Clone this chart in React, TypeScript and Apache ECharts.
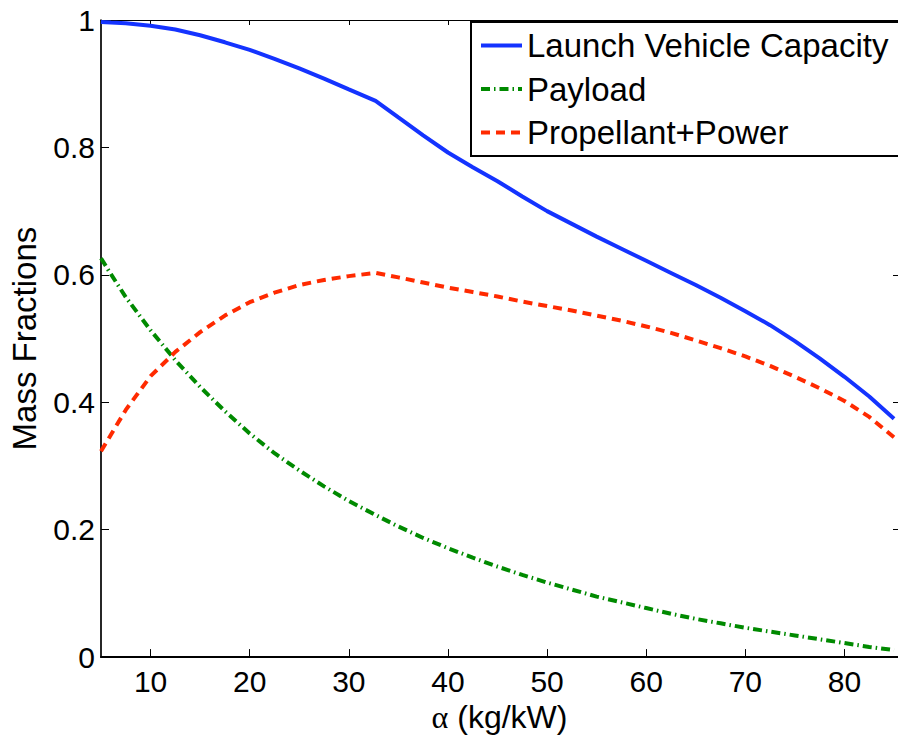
import React, { useEffect, useRef } from "react";
import * as echarts from "echarts";

const alphaValues = [5, 6, 7.5, 10, 12.5, 15, 17.5, 20, 22.5, 25, 27.5, 30, 32.7, 35, 37.5, 40, 42.5, 45, 47.5, 50, 52.5, 55, 57.5, 60, 62.5, 65, 67.5, 70, 72.5, 75, 77.5, 80, 82.5, 85];
const launchVehicleCapacity = [0.997, 0.996, 0.995, 0.991, 0.985, 0.976, 0.965, 0.953, 0.939, 0.924, 0.908, 0.891, 0.873, 0.847, 0.819, 0.792, 0.769, 0.747, 0.723, 0.7, 0.68, 0.66, 0.641, 0.622, 0.603, 0.584, 0.564, 0.543, 0.521, 0.496, 0.469, 0.44, 0.409, 0.374];
const payload = [0.626, 0.601, 0.565, 0.513, 0.466, 0.424, 0.386, 0.351, 0.32, 0.293, 0.268, 0.245, 0.223, 0.205, 0.187, 0.171, 0.156, 0.142, 0.129, 0.117, 0.106, 0.095, 0.086, 0.077, 0.068, 0.06, 0.053, 0.046, 0.04, 0.034, 0.028, 0.022, 0.016, 0.011];
const propellantPower = [0.323, 0.349, 0.388, 0.441, 0.479, 0.51, 0.536, 0.557, 0.572, 0.584, 0.592, 0.598, 0.603, 0.596, 0.588, 0.58, 0.573, 0.566, 0.558, 0.551, 0.544, 0.536, 0.528, 0.519, 0.509, 0.497, 0.485, 0.472, 0.457, 0.44, 0.422, 0.402, 0.377, 0.345];
const xTicks = [10, 20, 30, 40, 50, 60, 70, 80];
const seriesNames = ["Launch Vehicle Capacity", "Payload", "Propellant+Power"];

const FONT = "'Liberation Sans', Arial, Helvetica, sans-serif";

export default function App() {
  const ref = useRef<HTMLDivElement>(null);
  useEffect(() => {
    if (!ref.current) return;
    const chart = echarts.init(ref.current, null, { renderer: "svg" });
    const toPairs = (ys: number[]) => alphaValues.map((x, i) => [x, ys[i]]);
    const tickStyle = { show: true, inside: true, length: 8, lineStyle: { color: "#000", width: 1 } };
    chart.setOption({
      animation: false,
      backgroundColor: "#fff",
      textStyle: { fontFamily: FONT, color: "#000" },
      grid: { left: 100, top: 20, right: 0, bottom: 75, containLabel: false },
      xAxis: [
        {
          type: "value",
          min: 5,
          max: 85.4,
          position: "bottom",
          name: "{a|α} (kg/kW)",
          nameLocation: "middle",
          nameGap: 39,
          nameTextStyle: {
            fontSize: 32,
            color: "#000",
            fontFamily: FONT,
            rich: { a: { fontSize: 32, fontFamily: "'Liberation Serif', 'DejaVu Serif', serif", color: "#000" } },
          },
          axisLine: { show: true, onZero: false, lineStyle: { color: "#000", width: 2 } },
          axisTick: { ...tickStyle, customValues: xTicks },
          axisLabel: { customValues: xTicks, fontSize: 30, color: "#000", margin: 9, fontFamily: FONT },
          splitLine: { show: false },
        },
        {
          type: "value",
          min: 5,
          max: 85.4,
          position: "top",
          axisLine: { show: true, onZero: false, lineStyle: { color: "#000", width: 1 } },
          axisTick: { ...tickStyle, length: 5, customValues: xTicks },
          axisLabel: { show: false },
          splitLine: { show: false },
        },
      ],
      yAxis: [
        {
          type: "value",
          min: 0,
          max: 1,
          interval: 0.2,
          position: "left",
          name: "Mass Fractions",
          nameLocation: "middle",
          nameGap: 60,
          nameTextStyle: { fontSize: 33, color: "#000", fontFamily: FONT },
          axisLine: { show: true, onZero: false, lineStyle: { color: "#000", width: 1.7 } },
          axisTick: tickStyle,
          axisLabel: { fontSize: 30, color: "#000", margin: 6, fontFamily: FONT },
          splitLine: { show: false },
        },
        {
          type: "value",
          min: 0,
          max: 1,
          interval: 0.2,
          position: "right",
          axisLine: { show: false },
          axisTick: { ...tickStyle, length: 5 },
          axisLabel: { show: false },
          splitLine: { show: false },
        },
      ],
      legend: {
        show: true,
        orient: "vertical",
        left: 471,
        top: 22,
        padding: [7, 24, 7, 8],
        itemGap: 10.5,
        itemWidth: 41,
        itemHeight: 14,
        borderColor: "#000",
        borderWidth: 2,
        borderRadius: 0,
        backgroundColor: "#fff",
        itemStyle: { opacity: 0 },
        lineStyle: { width: 4 },
        textStyle: { fontSize: 33, lineHeight: 33, color: "#000", fontFamily: FONT },
        data: seriesNames,
      },
      series: [
        {
          name: seriesNames[0],
          type: "line",
          data: toPairs(launchVehicleCapacity),
          showSymbol: false,
          symbol: "none",
          smooth: false,
          color: "#1433ff",
          lineStyle: { color: "#1433ff", width: 4, type: "solid" },
        },
        {
          name: seriesNames[1],
          type: "line",
          data: toPairs(payload),
          showSymbol: false,
          symbol: "none",
          smooth: false,
          color: "#008a00",
          lineStyle: { color: "#008a00", width: 4, type: [9, 4, 1.5, 4] },
        },
        {
          name: seriesNames[2],
          type: "line",
          data: toPairs(propellantPower),
          showSymbol: false,
          symbol: "none",
          smooth: false,
          color: "#ff2a00",
          lineStyle: { color: "#ff2a00", width: 4, type: [9, 6] },
        },
      ],
    });
    return () => chart.dispose();
  }, []);
  return (
    <div
      ref={ref}
      style={{ position: "fixed", left: 0, top: 0, width: 898, height: 738, background: "#fff" }}
    />
  );
}
